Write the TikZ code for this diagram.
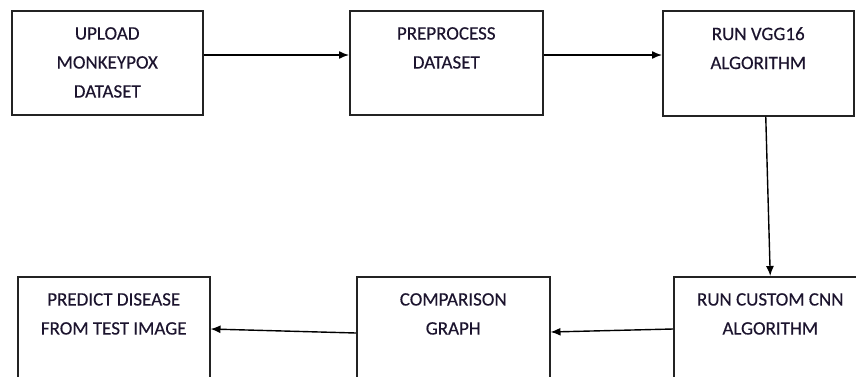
\documentclass[tikz,border=0pt]{standalone}
\usepackage{fontspec}
\setmainfont{Carlito}
\newfontfamily\boxfont{Carlito}[FakeBold=0.35]
\usetikzlibrary{arrows.meta}
\definecolor{ink}{RGB}{28,20,46}
\definecolor{edge}{RGB}{35,35,35}
\tikzset{
  boxnode/.style={draw=edge, line width=1.5pt, anchor=north west, inner sep=0pt, rectangle},
  txt/.style={anchor=north, inner sep=0pt, align=center, text=ink, font=\boxfont\fontsize{19}{29}\selectfont},
  conn/.style={draw=black, line width=1.4pt, -{Latex[length=10pt,width=8pt]}}
}
\begin{document}
\begin{tikzpicture}[x=1pt,y=-1pt]
\useasboundingbox (0,0) rectangle (856,376);
\clip (0,0) rectangle (856,376);
% boxes
\node[boxnode, minimum width=191pt, minimum height=104pt] (b1) at (11,10) {};
\node[boxnode, minimum width=193pt, minimum height=104pt] (b2) at (349,10) {};
\node[boxnode, minimum width=191pt, minimum height=105pt] (b3) at (662,10) {};
\node[boxnode, minimum width=193pt, minimum height=115pt] (b4) at (673,276) {};
\node[boxnode, minimum width=193pt, minimum height=115pt] (b5) at (356,276) {};
\node[boxnode, minimum width=192pt, minimum height=115pt] (b6) at (17,276) {};
% texts
\node[txt] (t1) at ([yshift=-17pt]b1.north) {UPLOAD\\MONKEYPOX\\DATASET};
\node[txt] (t2) at ([yshift=-17pt]b2.north) {PREPROCESS\\DATASET};
\node[txt] (t3) at ([yshift=-17pt]b3.north) {RUN VGG16\\ALGORITHM};
\node[txt] (t4) at ([yshift=-17pt]b4.north) {RUN CUSTOM CNN\\ALGORITHM};
\node[txt] (t5) at ([yshift=-17pt]b5.north) {COMPARISON\\GRAPH};
\node[txt] (t6) at ([yshift=-17pt]b6.north) {PREDICT DISEASE\\FROM TEST IMAGE};
% connectors
\draw[conn] ([yshift=-45pt]b1.north east) -- ([yshift=-45pt]b2.north west);
\draw[conn] ([yshift=-45pt]b2.north east) -- ([yshift=-45pt]b3.north west);
\draw[conn] ([xshift=7.5pt]b3.south) -- (b4.north);
\draw[conn] ([yshift=-53pt]b4.north west) -- ([yshift=-56pt]b5.north east);
\draw[conn] ([yshift=-57pt]b5.north west) -- ([yshift=-53pt]b6.north east);
\end{tikzpicture}
\end{document}
